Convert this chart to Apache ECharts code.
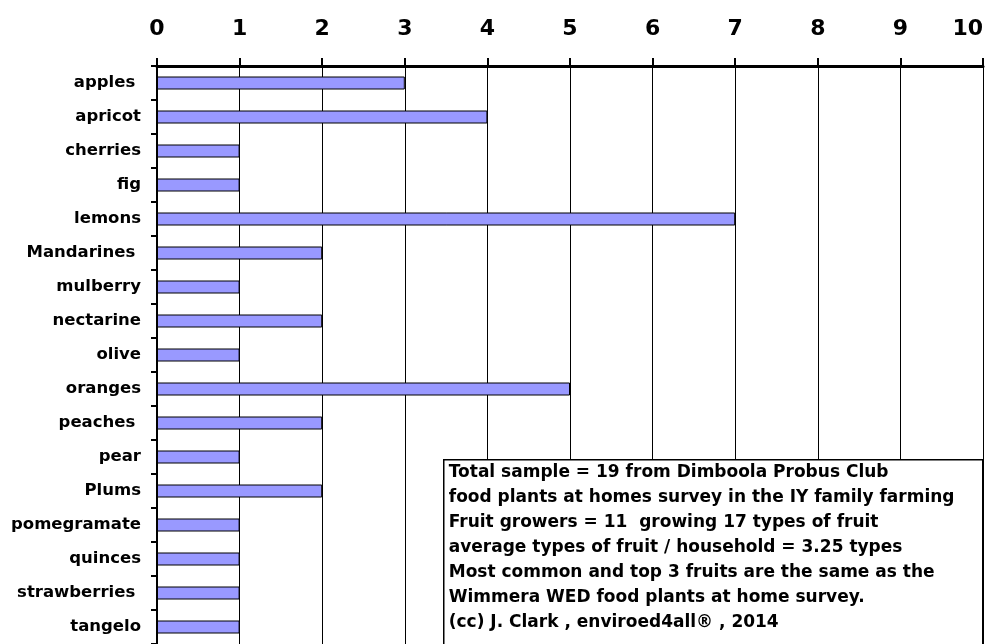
<!DOCTYPE html>
<html>
<head>
<meta charset="utf-8">
<script src="https://cdn.jsdelivr.net/npm/echarts@6/dist/echarts.min.js"></script>
<style>
html,body{margin:0;padding:0;background:#fff;}
#chart{width:998px;height:644px;}
</style>
</head>
<body>
<div id="chart"></div>
<script>
var categories = ['apples ', 'apricot', 'cherries', 'fig', 'lemons', 'Mandarines ', 'mulberry', 'nectarine', 'olive', 'oranges', 'peaches ', 'pear', 'Plums', 'pomegramate', 'quinces', 'strawberries ', 'tangelo'];
var counts = [3, 4, 1, 1, 7, 2, 1, 2, 1, 5, 2, 1, 2, 1, 1, 1, 1];
var xTicks = { min: 0, max: 10, interval: 1 };
var noteLines = [
  'Total sample = 19 from Dimboola Probus Club',
  'food plants at homes survey in the IY family farming',
  'Fruit growers = 11  growing 17 types of fruit',
  'average types of fruit / household = 3.25 types',
  'Most common and top 3 fruits are the same as the',
  'Wimmera WED food plants at home survey.',
  '(cc) J. Clark , enviroed4all\u00AE , 2014'
];

var chart = echarts.init(document.getElementById('chart'), null, {renderer: 'canvas'});
var FONT = '"DejaVu Sans", "Liberation Sans", Arial, sans-serif';
chart.setOption({
  animation: false,
  backgroundColor: '#fff',
  grid: { left: 157, top: 66, width: 826, height: 585, containLabel: false },
  xAxis: {
    type: 'value', position: 'top',
    min: xTicks.min, max: xTicks.max, interval: xTicks.interval,
    axisLine: { show: true, onZero: false, lineStyle: { color: '#000', width: 3 } },
    axisTick: { show: true, inside: false, length: 8, lineStyle: { color: '#000', width: 2 } },
    axisLabel: { color: '#000', fontFamily: FONT, fontWeight: 'bold', fontSize: 22, margin: 26, alignMaxLabel: 'right' },
    splitLine: { show: true, lineStyle: { color: '#000', width: 1 } }
  },
  yAxis: {
    type: 'category', inverse: true, data: categories,
    axisLine: { show: true, lineStyle: { color: '#000', width: 2 } },
    axisTick: { show: true, inside: false, length: 6, alignWithLabel: false, lineStyle: { color: '#000', width: 2 } },
    axisLabel: { color: '#000', fontFamily: FONT, fontWeight: 'bold', fontSize: 16.5, margin: 16 },
    splitLine: { show: false }
  },
  series: [{
    type: 'bar', data: counts, barWidth: 13,
    itemStyle: { color: '#9999FF', borderColor: '#000', borderWidth: 1 }
  }],
  graphic: [{
    type: 'group', left: 443, top: 459, z: 100,
    children: [
      { type: 'rect', z: 100, shape: { x: 0, y: 0, width: 539, height: 220 },
        style: { fill: '#fff', stroke: '#000', lineWidth: 1.5 } },
      { type: 'text', z: 101, x: 5, y: 0,
        style: { text: noteLines.join('\n'), fill: '#000', font: 'bold 17px ' + FONT, lineHeight: 25 } }
    ]
  }]
});
</script>
</body>
</html>
